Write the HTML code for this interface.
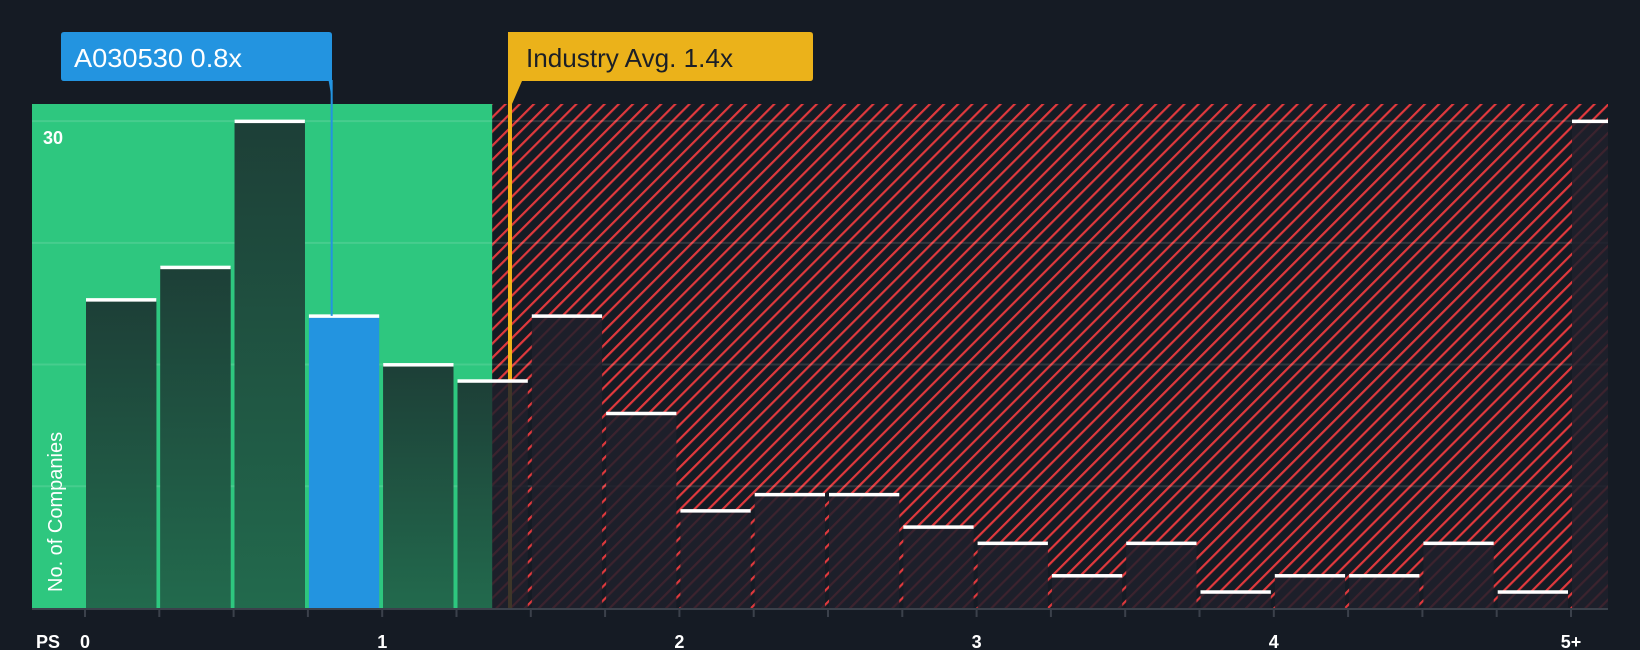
<!DOCTYPE html>
<html><head><meta charset="utf-8"><style>
html,body{margin:0;padding:0;background:#151b24;}
svg{display:block;font-family:"Liberation Sans",sans-serif;}
</style></head><body>
<svg id="chart" width="1640" height="650" viewBox="0 0 1640 650" xmlns="http://www.w3.org/2000/svg">
<defs>
<pattern id="hatch" patternUnits="userSpaceOnUse" width="10" height="10" patternTransform="rotate(45)">
<rect width="10" height="10" fill="#151b24"/>
<rect x="0" y="0" width="2.2" height="10" fill="#e0393d"/>
</pattern>
<linearGradient id="gbar" x1="0" y1="0" x2="0" y2="1"><stop offset="0" stop-color="#1d3f37"/><stop offset="1" stop-color="#226a4d"/></linearGradient>
<clipPath id="greenClip"><rect id="greenClipRect" x="32" y="104" width="457" height="504"/></clipPath>
</defs>
<g id="plot"></g>
</svg>
<script>
const binStarts=[0,0.25,0.5,0.75,1,1.25,1.5,1.75,2,2.25,2.5,2.75,3,3.25,3.5,3.75,4,4.25,4.5,4.75,5];
const counts=[19,21,30,18,15,14,18,12,6,7,7,5,4,2,4,1,2,2,4,1,30];
const xTicks=[0,1,2,3,4];
const xTickLabels=["0","1","2","3","4"];
const yGrid=[7.5,15,22.5,30];
const companyValue=0.83;
const industryValue=1.43;
const fairEnd=1.37;

const NS="http://www.w3.org/2000/svg";
const g=document.getElementById('plot');
const L=32,R=1608,T=104,B=608;
const x=v=>85+v*297.2;
const y=v=>B-v*16.23;
function el(tag,attrs,parent){const e=document.createElementNS(NS,tag);for(const k in attrs)e.setAttribute(k,attrs[k]);(parent||g).appendChild(e);return e;}
document.getElementById('greenClipRect').setAttribute('width',x(fairEnd)-L);

const bgH=el('rect',{x:L,y:T,width:R-L,height:B-T,fill:'url(#hatch)'});


const bgG=el('rect',{x:L,y:T,width:x(fairEnd)-L,height:B-T,fill:'#2ec77f'});



yGrid.forEach(v=>{const l=el('line',{x1:L,x2:R,y1:y(v),y2:y(v),stroke:'rgba(255,255,255,0.12)','stroke-width':2});

});

const ix=x(industryValue);
const il=el('line',{x1:ix,x2:ix,y1:80,y2:B,stroke:'#efb31b','stroke-width':4});



const gClip=el('g',{'clip-path':'url(#greenClip)'});



counts.forEach((c,i)=>{
 const s=binStarts[i];
 const x0=x(s)+1, x1=(i===counts.length-1)?R:x(s+0.25)-3;
 const blue=companyValue>=s&&companyValue<s+0.25;
 const r=el('rect',{x:x0,y:y(c),width:x1-x0,height:B-y(c),fill:blue?'#2394e0':'rgba(30,32,44,0.85)'});
 
 
 if(!blue&&s<fairEnd){
  const gr=el('rect',{x:x0,y:y(c),width:x1-x0,height:B-y(c),fill:'url(#gbar)'},gClip);
  
  
 }
});
g.appendChild(gClip);
counts.forEach((c,i)=>{
 const s=binStarts[i];
 const x0=x(s)+1, x1=(i===counts.length-1)?R:x(s+0.25)-3;
 const cap=el('rect',{x:x0,y:y(c)-1.5,width:x1-x0,height:3.5,fill:'#ffffff'});
 
 
});

const ax=el('line',{x1:L,x2:R,y1:B+1,y2:B+1,stroke:'#3b414b','stroke-width':2});


binStarts.forEach(s=>{const t=el('line',{x1:x(s),x2:x(s),y1:B,y2:B+9,stroke:'#3b414b','stroke-width':2});

});
xTicks.forEach((v,i)=>{const t=el('text',{x:x(v),y:648,fill:'#fff','font-size':18,'font-weight':'bold','text-anchor':'middle'});t.textContent=xTickLabels[i];

});
const t5=el('text',{x:x(5),y:648,fill:'#fff','font-size':18,'font-weight':'bold','text-anchor':'middle'});t5.textContent='5+';


const ps=el('text',{x:36,y:648,fill:'#fff','font-size':18,'font-weight':'bold'});ps.textContent='PS';


const y30=el('text',{x:43,y:144,fill:'#fff','font-size':18,'font-weight':'bold'});y30.textContent='30';


const yt=el('text',{x:0,y:0,fill:'#fff','font-size':20,transform:'translate(62,592) rotate(-90)'});yt.textContent='No. of Companies';



const cx=x(companyValue);
const cl=el('line',{x1:cx,x2:cx,y1:80,y2:y(counts[3]),stroke:'#2394e0','stroke-width':2});


const cb=el('path',{d:`M61 35 Q61 32 64 32 L329 32 Q332 32 332 35 L332 81 L${cx+1} 104 L${cx-3} 81 L64 81 Q61 81 61 78 Z`,fill:'#2394e0'});


const ct=el('text',{x:74,y:67,fill:'#fff','font-size':26,textLength:168,lengthAdjust:'spacingAndGlyphs'});ct.textContent='A030530 0.8x';



const ib=el('path',{d:`M${ix-2} 32 L810 32 Q813 32 813 35 L813 78 Q813 81 810 81 L${ix+12} 81 L${ix+2} 104 L${ix-2} 104 Z`,fill:'#ebb21a'});


const it=el('text',{x:526,y:67,fill:'#1b1f27','font-size':26,textLength:207,lengthAdjust:'spacingAndGlyphs'});it.textContent='Industry Avg. 1.4x';


</script>
</body></html>
